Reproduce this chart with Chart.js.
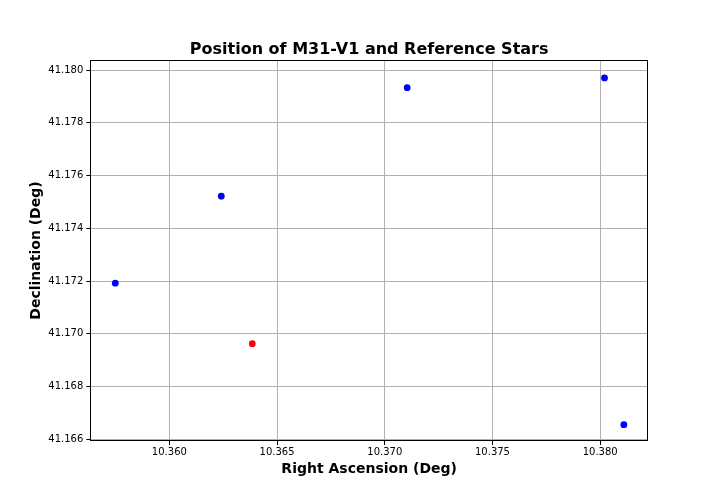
<!DOCTYPE html>
<html>
<head>
<meta charset="utf-8">
<script src="https://cdn.jsdelivr.net/npm/chart.js@4.4.1/dist/chart.umd.min.js"></script>
<style>
  html, body { margin: 0; padding: 0; background: #fff; }
  #wrap { width: 720px; height: 504px; }
</style>
</head>
<body>
<div id="wrap"><canvas id="chart" width="720" height="504"></canvas></div>
<script>
// reference stars (blue)
var refRA  = [10.35749, 10.36241, 10.37104, 10.38020, 10.38110]
var refDec = [41.17192, 41.17522, 41.17933, 41.17970, 41.16656]
// M31-V1 (red)
var targetRA  = [10.36385]
var targetDec = [41.16963]

var xMin = 10.35633, xMax = 10.38222
var yMin = 41.16594, yMax = 41.18038

var chartTitle = 'Position of M31-V1 and Reference Stars'
var xLabel = 'Right Ascension (Deg)'
var yLabel = 'Declination (Deg)'

function toPoints(xs, ys){
    return xs.map(function(x, i){ return { x: x, y: ys[i] } })
}

// matplotlib style frame + title
var framePlugin = {
    id: 'frame',
    afterDraw: function(chart){
        var a = chart.chartArea
        var ctx = chart.ctx
        var l = Math.round(a.left) + 0.5, t = Math.round(a.top) + 0.5
        var r = Math.round(a.right) - 0.5, b = Math.round(a.bottom) - 0.5
        ctx.save()
        ctx.strokeStyle = '#000'
        ctx.lineWidth = 1
        ctx.strokeRect(l, t, r - l, b - t)
        ctx.fillStyle = '#000'
        ctx.font = 'bold 16px "DejaVu Sans"'
        ctx.textAlign = 'center'
        ctx.textBaseline = 'middle'
        ctx.fillText(chartTitle, (a.left + a.right) / 2, 49.5)
        ctx.restore()
    }
}

Chart.defaults.font.family = '"DejaVu Sans"'
Chart.defaults.color = '#000'

new Chart(document.getElementById('chart'), {
    type: 'scatter',
    data: {
        datasets: [
            {
                label: 'Reference',
                data: toPoints(refRA, refDec),
                backgroundColor: '#0000ff',
                borderWidth: 0,
                pointRadius: 3.4
            },
            {
                label: 'M31-V1',
                data: toPoints(targetRA, targetDec),
                backgroundColor: '#ff0000',
                borderWidth: 0,
                pointRadius: 3.4
            }
        ]
    },
    options: {
        responsive: false,
        animation: false,
        events: [],
        layout: { padding: { left: 0, right: 72, top: 60, bottom: 0 } },
        plugins: {
            legend: { display: false },
            title: { display: false },
            tooltip: { enabled: false }
        },
        scales: {
            x: {
                type: 'linear',
                min: xMin,
                max: xMax,
                afterFit: function(s){ s.height = 63 },
                grid: { color: '#b0b0b0', lineWidth: 1, tickColor: '#000', tickLength: 4 },
                border: { display: false },
                ticks: {
                    stepSize: 0.005,
                    includeBounds: false,
                    padding: 1,
                    font: { size: 10 },
                    maxRotation: 0,
                    callback: function(v){ return v.toFixed(3) }
                },
                title: {
                    display: true,
                    text: xLabel,
                    font: { size: 14, weight: 'bold' },
                    padding: { top: 0, bottom: 26 }
                }
            },
            y: {
                type: 'linear',
                min: yMin,
                max: yMax,
                afterFit: function(s){ s.width = 90.3 },
                grid: { color: '#b0b0b0', lineWidth: 1, tickColor: '#000', tickLength: 4 },
                border: { display: false },
                ticks: {
                    stepSize: 0.002,
                    includeBounds: false,
                    padding: 3,
                    font: { size: 10 },
                    callback: function(v){ return v.toFixed(3) }
                },
                title: {
                    display: true,
                    text: yLabel,
                    font: { size: 14, weight: 'bold' },
                    padding: { top: 28, bottom: 0 }
                }
            }
        }
    },
    plugins: [framePlugin]
});
</script>
</body>
</html>
